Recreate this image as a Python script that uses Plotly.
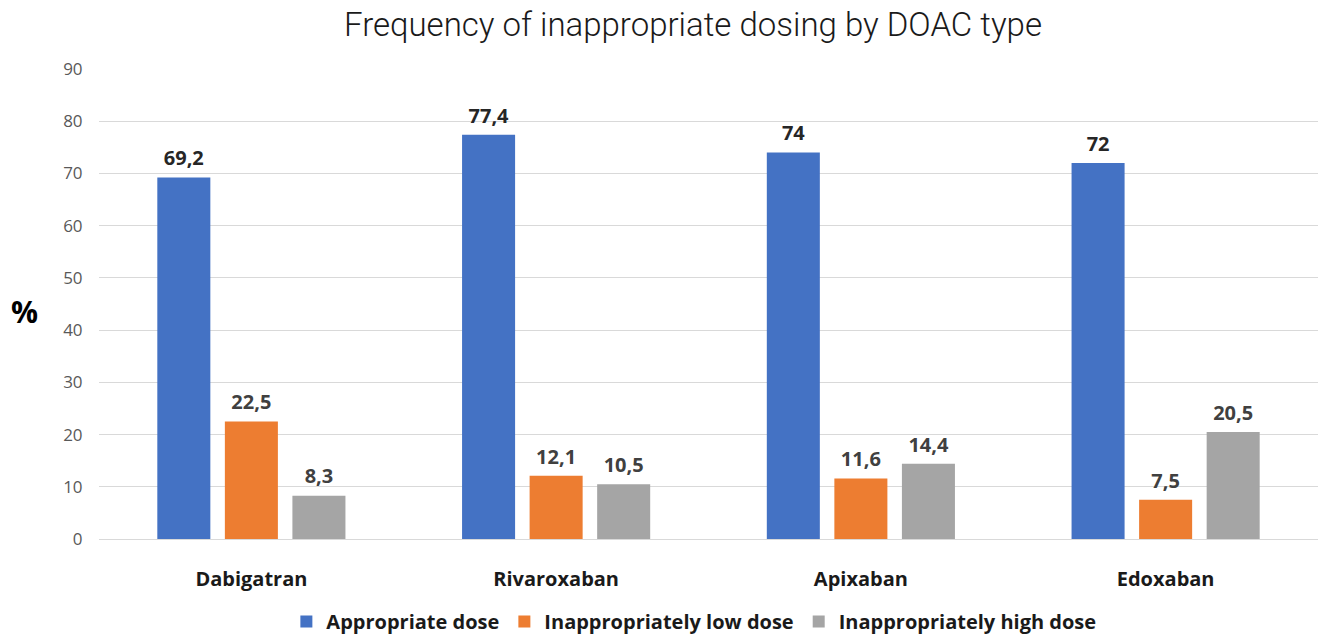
import plotly.graph_objects as go

# Dosing categories and the share (%) of patients in each, per DOAC
drugs = ["Dabigatran", "Rivaroxaban", "Apixaban", "Edoxaban"]
series_names = ["Appropriate dose", "Inappropriately low dose", "Inappropriately high dose"]
appropriate = [69.2, 77.4, 74, 72]
low_dose = [22.5, 12.1, 11.6, 7.5]
high_dose = [8.3, 10.5, 14.4, 20.5]
y_ticks = [0, 10, 20, 30, 40, 50, 60, 70, 80, 90]

colors = ["#4472C4", "#ED7D31", "#A5A5A5"]
label_colors = ["#262626", "#404040", "#404040"]
base_font = "Open Sans, Liberation Sans, sans-serif"
BARGAP = 0.335

fig = go.Figure()
for name, vals, col in zip(series_names, [appropriate, low_dose, high_dose], colors):
    fig.add_trace(go.Bar(
        x=drugs, y=vals, name=name,
        marker=dict(color=col, line=dict(width=0)),
    ))

# value labels: text-only scatter traces grouped like the bars,
# a transparent marker sets the distance above each bar top
for name, vals, lcol in zip(series_names, [appropriate, low_dose, high_dose], label_colors):
    fig.add_trace(go.Scatter(
        x=drugs, y=vals, mode="markers+text", showlegend=False,
        text=[f"{v:g}".replace(".", ",") for v in vals],
        textposition="top center",
        marker=dict(size=10, color="rgba(0,0,0,0)"),
        textfont=dict(family=base_font, size=20, color=lcol, weight="bold"),
        cliponaxis=False, hoverinfo="skip",
    ))

fig.update_layout(
    width=1320, height=638,
    margin=dict(l=99, r=2, t=69, b=98.5, autoexpand=False),
    paper_bgcolor="white", plot_bgcolor="white",
    barmode="group", bargap=BARGAP, bargroupgap=0.215,
    scattermode="group", scattergap=BARGAP,
    title=dict(
        text="Frequency of inappropriate dosing by DOAC type",
        x=0.525, xanchor="center", xref="container",
        y=0.961, yanchor="middle", yref="container",
        font=dict(family="Roboto, sans-serif", size=33, color="#1a1a1a", weight=300),
    ),
    xaxis=dict(
        showgrid=False, showline=False, zeroline=False, automargin=False,
        ticks="outside", ticklen=22, tickcolor="rgba(0,0,0,0)",
        tickfont=dict(family=base_font, size=20, color="#1a1a1a", weight="bold"),
    ),
    yaxis=dict(
        range=[0, 90], tickvals=y_ticks, automargin=False,
        showgrid=True, gridcolor="#d9d9d9", gridwidth=1,
        zeroline=True, zerolinecolor="#d9d9d9", zerolinewidth=1,
        showline=False,
        ticks="outside", ticklen=12, tickcolor="rgba(0,0,0,0)",
        tickfont=dict(family=base_font, size=17, color="#595959"),
    ),
    legend=dict(
        orientation="h", x=0.488, xanchor="center", y=-0.1755, yanchor="middle",
        font=dict(family=base_font, size=20, color="#1a1a1a", weight="bold"),
        itemwidth=30, tracegroupgap=0,
    ),
    annotations=[dict(
        text="%", xref="paper", yref="paper", x=-0.061, y=0.484,
        xanchor="center", yanchor="middle", showarrow=False,
        font=dict(family=base_font, size=30, color="#000000", weight="bold"),
    )],
)

fig.write_html("out.html")
